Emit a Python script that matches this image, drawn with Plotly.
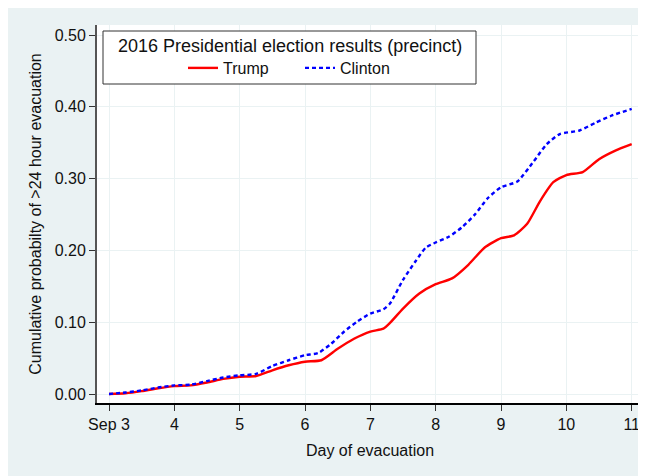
import plotly.graph_objects as go

# ---- data ----
trump_days = [3.0, 3.25, 3.5, 3.75, 4.0, 4.25, 4.5, 4.75, 5.0, 5.25, 5.5, 5.75, 6.0, 6.25,
              6.5, 6.75, 7.0, 7.2, 7.3, 7.5, 7.75, 8.0, 8.25, 8.5, 8.75, 9.0, 9.2, 9.4,
              9.6, 9.8, 10.0, 10.25, 10.5, 10.75, 11.0]
trump_vals = [0.000, 0.001, 0.004, 0.008, 0.011, 0.012, 0.016, 0.021, 0.024, 0.025, 0.033,
              0.040, 0.045, 0.047, 0.063, 0.077, 0.087, 0.091, 0.099, 0.119, 0.140, 0.153,
              0.161, 0.180, 0.204, 0.217, 0.221, 0.237, 0.269, 0.295, 0.305, 0.309, 0.327,
              0.339, 0.348]

clinton_days = [3.0, 3.25, 3.5, 3.75, 4.0, 4.25, 4.5, 4.75, 5.0, 5.25, 5.5, 5.75, 6.0, 6.2,
                6.4, 6.6, 6.8, 7.0, 7.2, 7.3, 7.5, 7.7, 7.85, 8.0, 8.2, 8.4, 8.6, 8.8, 9.0,
                9.25, 9.5, 9.7, 9.9, 10.2, 10.45, 10.7, 11.0]
clinton_vals = [0.000, 0.002, 0.005, 0.009, 0.012, 0.013, 0.018, 0.023, 0.026, 0.028, 0.039,
                0.047, 0.054, 0.057, 0.070, 0.087, 0.101, 0.112, 0.118, 0.126, 0.159, 0.186,
                0.204, 0.211, 0.219, 0.232, 0.250, 0.273, 0.288, 0.296, 0.324, 0.348, 0.362,
                0.367, 0.378, 0.388, 0.397]

x_tickvals = [3, 4, 5, 6, 7, 8, 9, 10, 11]
x_ticktext = ["Sep 3", "4", "5", "6", "7", "8", "9", "10", "11"]
y_tickvals = [0.0, 0.1, 0.2, 0.3, 0.4, 0.5]
legend_title = "2016 Presidential election results (precinct)"

BG = "#EAF2F3"
FONT = "Liberation Sans, Arial, sans-serif"

fig = go.Figure()
fig.add_trace(go.Scatter(x=trump_days, y=trump_vals, mode="lines", name="Trump",
                         line=dict(color="#FF0000", width=2.4, shape="spline", smoothing=0.6)))
fig.add_trace(go.Scatter(x=clinton_days, y=clinton_vals, mode="lines", name="Clinton",
                         line=dict(color="#0000FF", width=2.4, dash="4px,3px",
                                   shape="spline", smoothing=0.6)))

W, H = 646, 476
L, R, T, B = 89, 11, 17, 81
pw, ph = W - L - R, H - T - B

def px_x(p):
    return (p - L) / pw

def px_y(p):
    return (H - B - p) / ph

shapes = [
    dict(type="rect", xref="paper", yref="paper", x0=px_x(95), x1=px_x(468),
         y0=px_y(76), y1=px_y(23), fillcolor="white",
         line=dict(color="#333333", width=1), layer="above"),
]
annotations = [
    dict(text=legend_title, xref="paper", yref="paper", x=px_x(281.5), y=px_y(38),
         xanchor="center", yanchor="middle", showarrow=False,
         font=dict(size=18, color="#111111")),
]

fig.update_layout(
    width=W, height=H,
    margin=dict(l=L, r=R, t=T, b=B),
    paper_bgcolor=BG, plot_bgcolor="white",
    font=dict(family=FONT, size=16, color="#111111"),
    shapes=shapes, annotations=annotations,
    showlegend=True,
    legend=dict(
        x=px_x(175), y=px_y(60), xanchor="left", yanchor="middle",
        orientation="h", entrywidth=72,
        bgcolor="rgba(0,0,0,0)", borderwidth=0,
        font=dict(size=16),
    ),
    xaxis=dict(
        range=[3 - 12 / 65.3, 11 + 11.3 / 65.3],
        tickvals=x_tickvals, ticktext=x_ticktext,
        showgrid=True, gridcolor=BG, gridwidth=1.2,
        zeroline=False, showline=True, linecolor="#000000", linewidth=1.5,
        ticks="outside", ticklen=6, tickcolor="#333333",
        title=dict(text="Day of evacuation", standoff=13, font=dict(size=16)),
    ),
    yaxis=dict(
        range=[-9 / 718, 0.5 + 10 / 718],
        tickvals=y_tickvals, tickformat=".2f",
        showgrid=True, gridcolor=BG, gridwidth=1.2,
        zeroline=False, showline=True, linecolor="#555555", linewidth=2,
        ticks="outside", ticklen=6, tickcolor="#333333",
        title=dict(text="Cumulative probabilty of >24 hour evacuation", standoff=9,
                   font=dict(size=16)),
    ),
)

fig.write_html(
    "out.html",
    post_script=(
        "var s=document.createElement('style');"
        "s.textContent='html,body{overflow:hidden !important;}"
        "::-webkit-scrollbar{display:none;width:0;height:0;}';"
        "document.head.appendChild(s);"
    ),
)
